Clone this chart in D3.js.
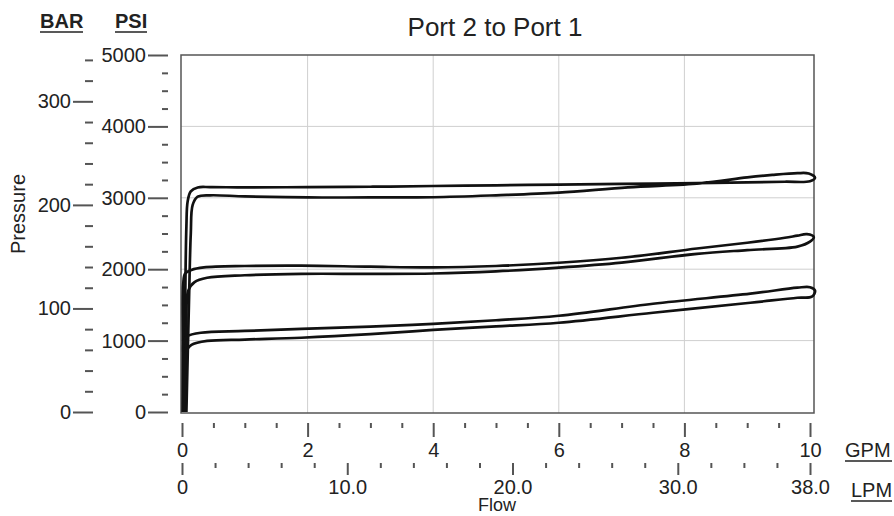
<!DOCTYPE html>
<html>
<head>
<meta charset="utf-8">
<script src="https://cdn.jsdelivr.net/npm/d3@7"></script>
<style>
  body { margin: 0; background: #fff; }
  svg { font-family: "Liberation Sans", Arial, sans-serif; }
</style>
</head>
<body>
<svg width="894" height="516"></svg>
<script>
// Pressure vs flow loops (flow in GPM, pressure in PSI)
// each loop goes up the left edge, right along one branch, round the end and back
const loopHighFlow = [0.03, 0.05, 0.07, 0.09, 0.14, 0.25, 0.45, 1.0, 2.0, 3.0, 4.0, 5.0, 6.0, 7.0, 8.2, 9.0, 9.6, 10.0, 10.08, 9.98, 9.8, 9.4, 9.0, 8.25, 7.1, 6.0, 5.0, 4.0, 3.0, 2.0, 1.0, 0.45, 0.25, 0.17, 0.14, 0.11, 0.07];
const loopHighPsi  = [0, 1500, 2600, 2950, 3090, 3145, 3150, 3145, 3150, 3155, 3165, 3175, 3185, 3195, 3205, 3215, 3225, 3232, 3280, 3340, 3345, 3320, 3285, 3202, 3146, 3072, 3035, 3008, 3005, 3005, 3020, 3035, 3015, 2900, 2500, 1500, 0];

const loopMidFlow = [0.01, 0.015, 0.02, 0.05, 0.15, 0.35, 1.0, 1.9, 3.0, 4.0, 5.0, 6.0, 7.0, 8.2, 9.0, 9.6, 9.8, 9.95, 10.06, 10.0, 9.8, 9.0, 8.2, 7.0, 6.0, 5.0, 4.0, 3.0, 1.9, 1.0, 0.4, 0.2, 0.1, 0.07, 0.05];
const loopMidPsi  = [0, 1000, 1800, 1940, 1990, 2025, 2045, 2050, 2035, 2025, 2045, 2090, 2160, 2290, 2370, 2440, 2470, 2490, 2450, 2385, 2316, 2268, 2215, 2092, 2022, 1970, 1940, 1935, 1935, 1915, 1880, 1820, 1700, 1200, 0];

const loopLowFlow = [0.02, 0.025, 0.03, 0.08, 0.3, 1.0, 1.9, 3.0, 4.0, 5.0, 6.0, 7.5, 9.05, 9.8, 10.0, 10.08, 10.03, 9.8, 9.05, 7.5, 6.0, 5.0, 4.0, 3.0, 1.9, 1.0, 0.4, 0.15, 0.08, 0.05, 0.04];
const loopLowPsi  = [0, 700, 1000, 1060, 1110, 1135, 1165, 1195, 1235, 1285, 1348, 1516, 1657, 1741, 1748, 1700, 1615, 1600, 1530, 1390, 1250, 1200, 1150, 1090, 1040, 1015, 995, 940, 870, 500, 0];

// axis ticks
const psiMajor = [0, 1000, 2000, 3000, 4000, 5000];
const psiMinor = d3.range(0, 5001, 250).filter(v => v % 1000 !== 0);
const barMajor = [0, 100, 200, 300];
const barMinor = [20, 40, 60, 80, 120, 140, 160, 180, 220, 240, 260, 280, 320, 340];
const gpmMajor = [0, 2, 4, 6, 8, 10];
const gpmMinor = d3.range(0.5, 10, 0.5).filter(v => v % 2 !== 0);
const lpmMajor = [0, 10, 20, 30, 38];
const lpmMinor = d3.range(2, 38, 2).filter(v => v % 10 !== 0);
const PSI_PER_BAR = 14.5038;

const svg = d3.select("svg");

const x = d3.scaleLinear().domain([0, 10]).range([182, 810]);
const xl = d3.scaleLinear().domain([0, 38]).range([182, 810]);
const y = d3.scaleLinear().domain([0, 5000]).range([412, 55]);
const yb = d3.scaleLinear().domain([0, 5000 / PSI_PER_BAR]).range([412, 55]);

const plotLeft = 181, plotRight = 814, plotTop = 55, plotBottom = 413;

// grid
const grid = svg.append("g").attr("stroke", "#cfcfcf").attr("stroke-width", 1);
grid.selectAll(".gx").data([2, 4, 6, 8]).enter().append("line")
  .attr("x1", d => x(d)).attr("x2", d => x(d))
  .attr("y1", plotTop).attr("y2", plotBottom);
grid.selectAll(".gy").data([1000, 2000, 3000, 4000]).enter().append("line")
  .attr("x1", plotLeft).attr("x2", plotRight)
  .attr("y1", d => y(d)).attr("y2", d => y(d));

// frame
svg.append("rect")
  .attr("x", plotLeft).attr("y", plotTop)
  .attr("width", plotRight - plotLeft).attr("height", plotBottom - plotTop)
  .attr("fill", "none").attr("stroke", "#555").attr("stroke-width", 1.5);

function styleAxis(g) {
  g.select(".domain").remove();
  g.selectAll("line").attr("stroke", "#555").attr("stroke-width", 2);
  g.selectAll("text").attr("fill", "#222").style("font-size", "20px");
}

// PSI axis
svg.append("g").attr("transform", "translate(168,0)")
  .call(d3.axisLeft(y).tickValues(psiMajor).tickSize(20).tickPadding(2).tickFormat(d3.format("d")))
  .call(styleAxis);
svg.append("g").attr("transform", "translate(168,0)")
  .call(d3.axisLeft(y).tickValues(psiMinor).tickSize(6).tickFormat(""))
  .call(styleAxis);

// BAR axis
svg.append("g").attr("transform", "translate(93,0)")
  .call(d3.axisLeft(yb).tickValues(barMajor).tickSize(20).tickPadding(2).tickFormat(d3.format("d")))
  .call(styleAxis);
svg.append("g").attr("transform", "translate(93,0)")
  .call(d3.axisLeft(yb).tickValues(barMinor).tickSize(8).tickFormat(""))
  .call(styleAxis);

// GPM axis
svg.append("g").attr("transform", "translate(0,423)")
  .call(d3.axisBottom(x).tickValues(gpmMajor).tickSize(14).tickPadding(6).tickFormat(d3.format("d")))
  .call(styleAxis);
svg.append("g").attr("transform", "translate(0,423)")
  .call(d3.axisBottom(x).tickValues(gpmMinor).tickSize(5).tickFormat(""))
  .call(styleAxis);

// LPM axis
svg.append("g").attr("transform", "translate(0,463)")
  .call(d3.axisBottom(xl).tickValues(lpmMajor).tickSize(12).tickPadding(5).tickFormat(d => d === 0 ? "0" : d3.format(".1f")(d)))
  .call(styleAxis);
svg.append("g").attr("transform", "translate(0,463)")
  .call(d3.axisBottom(xl).tickValues(lpmMinor).tickSize(5).tickFormat(""))
  .call(styleAxis);

// curves
const line = d3.line()
  .x(d => x(d[0]))
  .y(d => y(d[1]))
  .curve(d3.curveCatmullRom.alpha(0.5));

const loops = [
  d3.zip(loopHighFlow, loopHighPsi),
  d3.zip(loopMidFlow, loopMidPsi),
  d3.zip(loopLowFlow, loopLowPsi)
];
svg.append("g").selectAll("path").data(loops).enter().append("path")
  .attr("d", line)
  .attr("fill", "none")
  .attr("stroke", "#111")
  .attr("stroke-width", 2.7)
  .attr("stroke-linejoin", "round");

// labels
function label(txt, px, py, opts = {}) {
  return svg.append("text")
    .attr("x", px).attr("y", py)
    .attr("fill", "#222")
    .attr("text-anchor", opts.anchor || "start")
    .style("font-size", (opts.size || 20) + "px")
    .style("font-weight", opts.bold ? "bold" : "normal")
    .text(txt);
}
function underline(x1, x2, yy) {
  svg.append("line").attr("x1", x1).attr("x2", x2).attr("y1", yy).attr("y2", yy)
    .attr("stroke", "#222").attr("stroke-width", 1.5);
}

label("Port 2 to Port 1", 495, 36, { anchor: "middle", size: 26 });
label("BAR", 40, 28, { bold: true });
underline(40, 83, 32);
label("PSI", 115, 28, { bold: true });
underline(115, 147, 32);
label("GPM", 845, 457);
underline(845, 892, 461);
label("LPM", 851, 497);
underline(851, 892, 501);
label("Flow", 497, 511, { anchor: "middle", size: 18 });

svg.append("text")
  .attr("transform", "translate(25,214) rotate(-90)")
  .attr("text-anchor", "middle")
  .attr("fill", "#222")
  .style("font-size", "20px")
  .text("Pressure");
</script>
</body>
</html>
